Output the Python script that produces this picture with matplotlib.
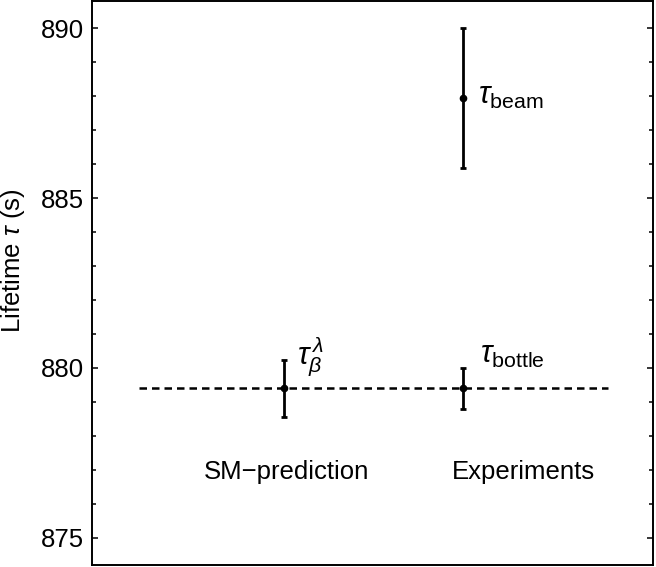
import matplotlib
matplotlib.use("Agg")
import matplotlib.pyplot as plt
from matplotlib.ticker import MultipleLocator

plt.rcParams['font.family'] = ['Liberation Sans', 'DejaVu Sans']
plt.rcParams['mathtext.fontset'] = 'custom'
plt.rcParams['mathtext.rm'] = 'Liberation Sans'
plt.rcParams['mathtext.it'] = 'Liberation Sans:italic'
plt.rcParams['mathtext.bf'] = 'Liberation Sans:bold'

# data
groups = ['SM\u2212prediction', 'Experiments']
point_x = [1, 2, 2]
point_tau = [879.4, 879.4, 887.95]
point_err = [0.83, 0.6, 2.05]
point_names = [r'$\tau_\beta^{\,\lambda}$', r'$\tau_{\rm bottle}$', r'$\tau_{\rm beam}$']
reference_tau = 879.4

fig = plt.figure(figsize=(6.56, 5.67), dpi=100)
ax = fig.add_axes([0.1402, 0.0035, 0.855, 0.9947])

# dashed reference line (doesn't span the full width)
ax.plot([0.19, 2.81], [reference_tau, reference_tau], color='black',
        lw=1.8, dashes=(3, 2))

ax.errorbar(point_x, point_tau, yerr=point_err, fmt='o', color='black',
            ms=4.5, elinewidth=2.0, capsize=2.5, capthick=2.0)

# labels next to each point
label_dx = [0.075, 0.095, 0.083]
label_y = [880.14, 880.14, 887.77]
for x, y, dx, name in zip(point_x, label_y, label_dx, point_names):
    ax.text(x + dx, y, name, fontsize=22, ha='left', va='baseline')

# group names
group_text_x = [1.013, 2.34]
for gx, g in zip(group_text_x, groups):
    ax.text(gx, 876.73, g, fontsize=18.5, ha='center', va='baseline')

ax.set_xlim(-0.07, 3.06)
ax.set_ylim(874.2, 890.8)
ax.set_xticks([])
ax.yaxis.set_major_locator(MultipleLocator(5))
ax.yaxis.set_minor_locator(MultipleLocator(1))
ax.tick_params(axis='y', which='both', direction='in', left=True, right=True,
               width=1.1, labelsize=18.5)
ax.tick_params(axis='y', which='major', length=4.5, pad=6)
ax.tick_params(axis='y', which='minor', length=3)
for s in ax.spines.values():
    s.set_linewidth(1.4)

ax.set_ylabel(r'Lifetime $\tau$ (s)', fontsize=18.5)
ax.yaxis.set_label_coords(-0.116, 0.54)

plt.savefig('out.png', dpi=100)
